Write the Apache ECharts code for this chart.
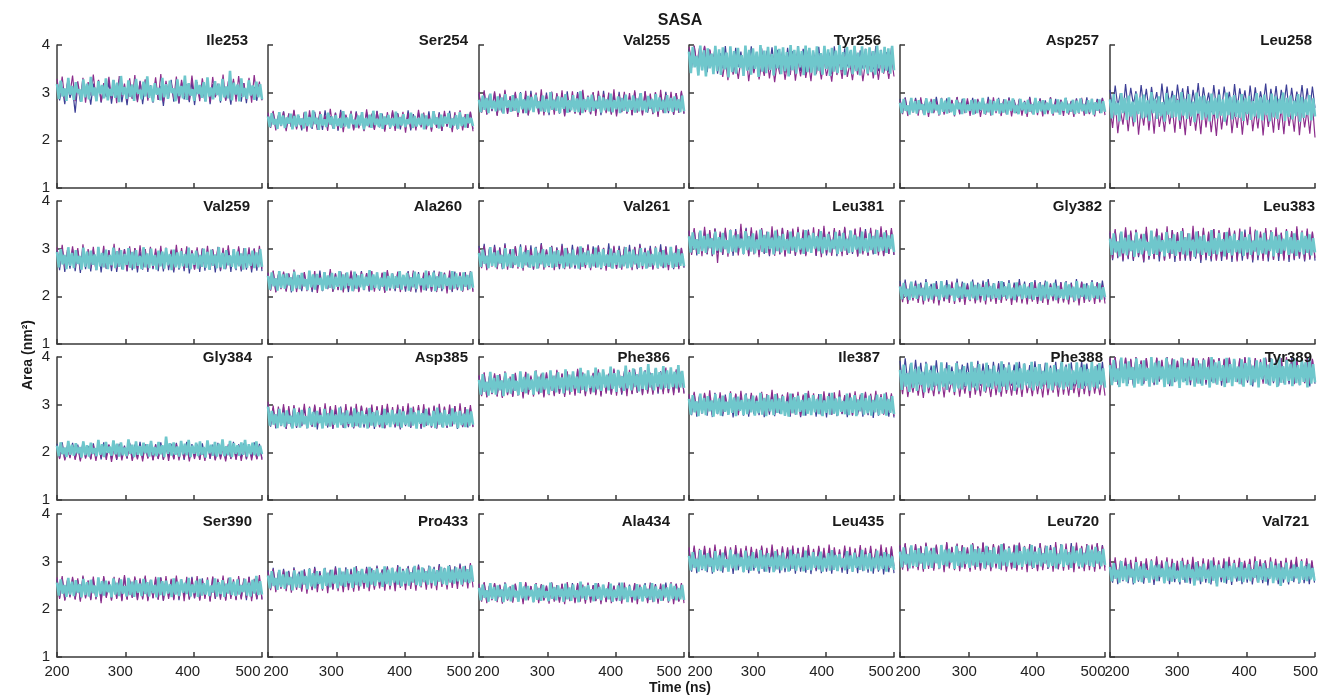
<!DOCTYPE html>
<html>
<head>
<meta charset="utf-8">
<title>SASA</title>
<script src="https://cdn.jsdelivr.net/npm/echarts@6/dist/echarts.min.js"></script>
<style>
  html, body { margin: 0; padding: 0; background: #ffffff; }
  #chart { width: 1321px; height: 696px; }
</style>
</head>
<body>
<div id="chart"></div>
<script>
// Solvent accessible surface area per residue, 200–500 ns.
// Each residue holds three runs: [blue, purple, cyan]; values are in 0.01 nm².

const residues = ['Ile253', 'Ser254', 'Val255', 'Tyr256', 'Asp257', 'Leu258',
                  'Val259', 'Ala260', 'Val261', 'Leu381', 'Gly382', 'Leu383',
                  'Gly384', 'Asp385', 'Phe386', 'Ile387', 'Phe388', 'Tyr389',
                  'Ser390', 'Pro433', 'Ala434', 'Leu435', 'Leu720', 'Val721'];

const timeTicks = [200, 300, 400, 500];
const areaTicks = [1, 2, 3, 4];

const Ile253 = [
  [318,284,312,276,321,289,307,258,316,281,324,290,311,275,319,286,326,279,309,291,322,277,315,287,328,280,313,274,320,288,310,283,325,276,317,290,306,279,323,285,314,272,319,289,327,281,312,277,321,286,308,280,324,274,316,288,311,282,326,276,318,290,313,279,322,284,309,275,325,287,315,281,320,278,327,289,312,283,317,285],
  [329,291,334,285,318,297,336,282,324,289,331,279,322,294,338,286,327,281,320,295,333,288,326,278,335,292,319,284,330,287,337,280,323,296,328,283,316,290,332,285,339,281,325,293,321,287,334,279,327,294,318,284,336,289,322,282,330,297,326,280,333,291,319,286,338,283,324,288,329,281,335,293,320,285,331,279,337,290,323,284],
  [318,287,325,292,309,283,331,296,314,285,322,299,307,281,328,290,319,286,333,294,311,282,324,297,316,288,330,284,308,293,327,289,321,280,335,295,312,287,326,291,317,283,329,298,306,286,323,292,334,289,315,281,320,296,310,284,331,290,318,287,325,299,309,282,328,293,314,288,336,285,320,294,307,283,327,297,316,289,322,281,332,292,311,286,324,295,319,283,329,290,313,288,346,284,321,296,317,282,330,291,310,287,326,294,315,285,323,290,318,286]
];
const Ser254 = [
  [254,229,259,225,250,232,261,223,256,228,262,226,249,221,258,230,253,224,260,227,255,222,263,229,251,225,258,220,264,231,252,226,257,223,261,228,254,221,259,230,250,224,262,227,256,222,253,229,260,225,257,223,251,228,263,221,255,226,258,230,252,224,261,222,254,227,259,220,256,229,262,225,253,223,258,228,250,226,260,224],
  [258,226,262,221,253,230,260,219,256,228,264,223,251,225,259,218,263,227,255,222,261,229,252,220,266,226,257,223,260,217,254,228,262,221,258,225,253,219,265,227,256,222,261,230,250,218,259,224,263,220,255,228,260,216,257,225,252,221,264,227,258,223,254,218,261,226,256,220,262,229,253,217,259,224,263,221,255,226,260,219],
  [250,228,257,233,245,224,259,231,252,226,248,235,256,223,251,229,254,232,246,225,260,230,249,227,263,234,247,222,255,231,244,228,258,233,250,224,253,230,246,226,261,229,248,225,256,234,243,227,252,231,259,223,247,230,254,226,262,232,245,228,257,224,250,233,253,227,246,230,260,225,249,231,255,228,244,234,258,226,251,229,247,232,256,223,252,230,245,227,261,233,248,225,254,229,250,235,257,226,246,231,253,224,259,230,249,227,255,236,247,230]
];
const Val255 = [
  [297,259,302,255,294,261,300,253,296,258,303,256,291,262,299,254,301,257,295,252,304,260,297,255,293,258,300,253,302,261,296,256,299,252,303,259,294,257,301,254,298,262,292,255,300,258,297,253,304,260,295,256,299,254,302,259,296,257,293,253,301,261,298,255,303,258,294,256,300,252,297,260,302,257,295,254,299,258,301,256],
  [301,258,305,254,296,262,303,251,298,259,306,256,293,261,302,249,299,257,304,253,297,263,300,255,307,252,295,260,302,254,299,258,305,250,296,261,303,256,298,253,306,259,294,255,301,251,304,262,297,257,300,254,307,250,296,260,302,256,299,253,305,258,295,252,303,261,298,255,301,249,306,257,297,260,302,254,299,258,304,256],
  [285,259,294,264,289,257,298,266,283,261,292,263,290,256,297,268,284,260,295,262,288,258,299,265,286,257,293,263,291,259,296,267,282,261,294,260,287,258,301,264,285,262,292,257,290,266,297,258,284,263,295,260,288,259,303,257,286,264,291,260,296,262,283,266,293,258,290,263,286,261,298,259,284,265,292,257,289,262,296,260,285,264,294,258,288,261,299,263,283,259,293,266,287,258,297,261,290,264,285,257,295,262,289,260,292,263,286,259,294,261]
];
const Tyr256 = [
  [392,352,397,358,385,347,396,343,389,355,393,340,383,351,398,346,390,342,394,354,386,339,391,348,397,345,384,350,393,341,388,356,395,344,390,349,386,342,394,347,387,352,398,345,392,341,389,353,385,346,396,343,391,350,384,339,397,348,388,344,393,355,386,342,395,347,389,351,392,340,387,349,398,345,390,352,385,343,394,348],
  [396,366,399,360,393,371,398,358,391,364,384,345,372,333,368,326,376,338,362,329,370,336,381,324,366,341,373,328,360,335,377,330,369,322,364,339,375,327,362,337,379,325,367,334,372,331,365,324,378,339,363,328,371,335,360,323,374,337,366,329,380,333,361,326,369,338,373,324,364,336,376,330,367,327,370,340,363,329,375,334],
  [386,341,396,353,377,336,399,347,389,334,393,351,382,339,398,345,391,337,395,349,384,332,397,343,387,340,394,352,379,335,399,346,390,338,393,350,386,333,400,344,388,341,396,348,381,336,398,351,392,339,395,345,385,334,400,347,390,340,397,353,387,337,399,343,394,342,389,336,397,346,383,338,398,350,391,335,394,344,388,341,400,348,385,337,396,352,390,339,398,345,384,336,397,349,392,340,395,343,387,338,399,351,389,342,396,346,393,340,398,347]
];
const Asp257 = [
  [287,260,290,257,283,261,289,258,285,262,288,256,282,259,291,260,286,257,288,263,284,258,290,255,287,261,283,259,289,257,285,262,288,258,291,256,284,260,289,259,286,257,290,261,285,258,287,256,283,260,291,258,286,262,288,257,284,259,290,256,287,261,285,258,289,260,283,257,288,262,286,259,290,256,284,260,287,258,289,259],
  [284,255,288,251,279,258,286,252,290,256,281,249,287,257,283,252,289,254,280,258,285,250,291,255,282,257,288,251,284,256,287,249,280,254,286,252,290,257,279,251,285,255,288,250,283,257,286,252,281,249,289,256,284,253,287,250,280,255,290,252,283,258,285,251,288,254,281,249,286,256,289,252,282,255,287,250,284,257,288,253],
  [279,257,287,262,273,254,289,259,282,256,284,264,276,253,288,258,281,257,286,263,274,254,288,260,283,256,290,259,277,253,285,265,279,255,288,258,275,262,284,254,286,257,281,263,289,255,277,259,285,253,282,261,287,256,278,258,286,254,283,262,288,257,274,255,287,263,280,256,285,260,276,254,289,258,282,261,284,255,279,263,287,256,275,259,286,254,281,262,289,257,277,260,285,255,283,258,288,261,276,256,284,259,287,254,280,262,286,257,282,260]
];
const Leu258 = [
  [306,263,315,271,299,259,318,266,310,275,303,261,316,269,308,264,312,273,301,258,319,267,313,270,304,262,317,274,309,265,314,260,306,270,320,263,311,272,300,259,316,267,307,262,313,271,302,258,318,266,309,273,305,260,315,268,311,264,303,272,319,261,308,269,314,263,306,274,317,260,310,267,302,271,316,265,309,262,313,268],
  [270,226,282,215,263,233,277,219,271,229,285,212,266,231,280,221,273,214,284,228,261,218,276,234,269,216,287,224,264,211,279,230,272,220,267,213,281,227,274,217,265,209,278,223,268,231,283,215,262,226,275,212,270,232,286,219,264,225,279,210,272,228,266,216,281,222,268,213,277,230,263,218,284,211,271,227,265,214,276,206],
  [286,246,297,253,279,240,299,257,289,243,294,250,281,238,298,255,290,246,296,248,284,241,301,257,287,245,292,251,280,239,299,254,289,247,295,249,285,242,301,252,287,245,297,250,281,238,300,256,292,243,294,248,283,240,298,254,289,246,296,252,286,239,300,253,291,244,295,249,284,247,297,241,288,255,293,243,282,250,299,246,290,242,296,253,285,240,298,248,292,245,287,256,300,241,289,249,294,244,283,251,297,239,291,247,286,253,295,242,288,250]
];
const Val259 = [
  [296,255,301,251,293,258,299,253,296,249,302,257,294,252,298,256,300,250,295,258,297,253,303,251,292,257,299,252,296,255,301,250,294,256,298,251,300,257,293,253,297,252,302,255,295,250,299,256,296,253,301,248,294,257,298,251,300,254,293,256,297,250,302,253,295,257,299,251,296,255,301,252,294,256,298,250,300,254,297,253],
  [303,262,308,258,297,265,305,260,301,256,309,263,299,259,304,255,300,264,306,258,296,261,310,257,302,263,298,254,305,260,301,258,307,262,299,256,304,259,300,261,306,257,302,263,298,255,308,260,301,258,305,262,297,256,303,259,300,264,306,257,299,261,304,255,302,259,307,262,298,258,305,256,301,263,303,257,300,260,306,258],
  [293,261,299,267,287,257,303,264,291,259,297,268,285,256,302,262,294,258,296,266,288,255,304,263,291,261,298,257,287,265,302,259,295,262,297,256,289,266,301,260,293,258,297,264,285,257,303,261,290,259,300,264,287,256,296,263,294,258,301,265,289,255,298,261,292,259,295,263,289,260,302,257,290,266,296,258,287,262,300,260,293,256,298,264,288,259,303,261,291,257,297,265,286,262,299,258,294,263,290,256,301,260,288,264,296,259,292,261,299,262]
];
const Ala260 = [
  [248,214,252,210,245,217,250,212,247,208,253,215,244,211,249,216,251,209,246,213,254,211,243,216,250,210,248,214,252,212,245,209,251,215,247,211,253,213,249,210,246,216,250,212,248,209,252,214,246,211,250,216,244,210,253,213,248,208,251,215,245,212,249,210,254,214,247,211,250,216,246,209,252,213,248,211,251,215,249,212],
  [250,212,254,208,246,215,252,210,248,213,256,209,244,216,251,211,249,214,253,207,245,212,250,215,257,210,247,213,252,208,249,216,254,211,246,209,251,214,248,212,253,210,247,215,250,207,255,212,248,214,252,209,245,216,251,210,254,213,247,208,250,215,253,211,246,209,252,214,249,206,254,212,247,215,251,210,248,213,253,209],
  [243,214,250,221,238,212,253,218,246,216,248,223,240,211,252,217,245,215,249,221,236,213,254,219,246,214,247,224,239,212,251,216,244,218,249,215,241,220,253,213,246,217,250,222,237,211,252,216,244,219,247,214,241,222,255,213,246,218,250,215,239,220,251,212,243,217,248,216,242,218,253,214,245,221,249,212,240,219,252,215,247,223,238,213,254,217,244,220,250,211,242,218,251,215,246,222,239,214,253,216,248,219,243,212,250,220,245,215,252,218]
];
const Val261 = [
  [306,261,310,258,300,264,308,260,303,257,311,263,299,259,305,262,309,258,301,261,307,256,304,263,312,260,298,262,306,259,303,257,310,261,300,264,308,258,304,260,302,263,309,259,305,261,307,257,301,262,311,260,303,258,306,264,299,259,308,261,304,257,310,262,302,260,306,258,300,263,309,259,305,261,303,257,307,262,301,260],
  [302,259,306,255,298,262,304,257,300,261,308,256,297,260,305,258,301,254,307,262,299,257,303,259,309,256,298,261,305,255,300,260,306,257,302,258,297,261,304,256,301,259,307,255,299,260,305,257,302,254,298,261,306,258,300,256,304,260,297,255,303,259,308,257,299,262,301,256,305,258,298,260,304,255,300,259,306,257,302,261],
  [291,262,298,268,285,259,303,264,292,261,296,269,287,258,301,263,289,260,299,266,284,262,304,259,293,265,297,260,286,263,302,258,291,267,299,261,288,264,303,260,294,262,297,268,285,259,301,263,290,261,298,265,287,258,305,262,292,266,296,260,289,263,302,261,293,259,299,264,288,262,300,258,291,266,297,260,286,263,303,259,294,261,298,267,288,260,301,264,292,258,296,262,289,265,302,259,293,263,297,261,287,266,304,260,291,262,299,264,290,263]
];
const Leu381 = [
  [336,290,340,286,333,292,339,288,335,284,342,291,331,287,338,293,336,285,341,290,334,288,344,286,337,292,332,287,340,289,335,284,339,291,333,288,343,286,336,290,338,285,341,289,334,287,340,292,333,285,338,289,342,286,335,291,339,284,337,290,343,287,334,289,340,285,336,292,341,286,338,288,333,291,342,285,337,289,339,287],
  [338,287,343,291,335,284,346,289,339,285,342,270,336,288,344,283,340,292,337,286,352,290,341,284,345,288,338,282,343,291,336,287,347,285,340,289,344,283,339,290,342,286,346,288,340,284,337,291,345,286,341,282,348,289,336,285,343,290,339,284,346,287,338,292,342,283,345,288,337,285,344,290,340,286,347,284,339,289,343,287],
  [326,292,334,298,320,289,338,295,327,291,331,301,322,288,336,296,324,293,333,299,318,290,339,294,328,292,330,301,321,289,337,297,326,294,332,290,319,298,340,293,329,291,335,299,323,288,338,295,327,292,331,297,320,290,336,296,325,293,334,298,322,289,339,294,328,291,333,300,326,295,337,290,324,297,331,292,319,299,335,289,327,294,333,296,321,291,338,293,329,298,325,290,336,295,322,292,332,297,327,289,339,294,324,296,334,291,328,299,330,293]
];
const Gly382 = [
  [232,193,235,190,227,196,233,192,229,189,236,195,226,191,232,194,230,190,234,197,228,192,237,189,231,195,227,192,235,190,229,194,233,191,236,196,228,190,232,193,230,195,234,191,229,193,236,190,231,195,228,192,234,189,230,196,233,191,227,194,235,192,230,190,232,195,229,193,236,191,231,194,228,190,234,196,230,192,233,193],
  [225,188,229,184,221,191,227,186,224,183,230,189,220,185,226,181,228,190,222,186,231,184,219,188,227,182,224,190,229,185,221,187,226,183,230,189,223,184,228,186,220,191,227,182,224,187,229,185,222,183,226,189,230,184,221,186,228,182,225,190,223,185,229,187,220,183,227,188,224,181,230,186,222,189,226,184,228,187,223,185],
  [221,194,228,199,216,192,231,197,222,195,226,201,218,191,230,196,221,193,227,200,215,192,232,198,223,194,225,202,217,190,229,197,220,195,228,199,214,193,231,196,224,192,226,201,219,191,230,198,222,194,227,197,216,193,232,199,221,195,228,196,218,192,229,200,223,194,226,197,220,195,230,193,217,199,227,191,224,196,231,194,219,200,228,192,222,197,215,195,229,193,225,198,220,191,232,196,218,199,226,194,223,192,230,197,221,195,227,193,219,198]
];
const Leu383 = [
  [333,276,338,280,330,273,340,278,334,274,339,282,328,271,337,277,335,279,341,273,331,276,336,280,339,272,333,278,340,275,329,274,337,279,334,270,338,276,332,273,341,277,336,274,333,279,339,272,335,277,330,275,340,278,334,271,337,276,331,279,338,273,336,277,340,274,332,278,339,272,335,276,341,279,333,273,337,277,334,275],
  [336,279,341,283,333,276,345,281,338,277,340,285,331,273,346,280,337,278,342,284,334,275,347,279,339,282,335,274,343,280,332,277,348,283,337,276,344,281,336,278,341,275,339,282,335,277,344,280,338,273,342,284,333,279,346,276,340,282,336,274,343,281,339,277,345,283,334,275,341,280,337,278,347,282,338,276,342,279,336,281],
  [321,287,332,292,315,284,336,290,323,286,329,295,317,283,334,291,321,288,331,296,314,285,338,289,325,287,328,294,318,284,335,291,322,289,330,285,316,293,337,288,324,286,332,295,319,283,336,290,326,287,329,292,315,285,339,289,322,288,333,294,320,284,335,291,327,286,331,293,318,290,336,285,324,292,330,287,317,294,338,286,323,290,333,288,319,295,335,284,326,291,329,289,321,296,337,287,324,290,332,285,318,293,334,288,327,291,330,286,322,292]
];
const Gly384 = [
  [218,188,221,185,214,190,220,187,216,184,222,189,213,186,219,188,217,185,221,190,215,186,223,184,218,189,214,187,220,185,216,188,222,186,215,189,219,184,217,187,221,185,216,190,218,186,220,188,215,184,222,187,217,189,214,185,219,188,221,186,216,184,220,190,218,185,213,187,222,186,217,188,219,185,215,189,221,186,218,187],
  [213,186,217,183,210,188,216,184,212,181,218,187,209,185,215,182,213,189,211,184,217,180,210,186,216,183,212,188,218,182,209,185,214,181,217,187,211,183,215,186,213,184,216,182,212,185,218,183,210,187,215,181,213,186,217,184,211,182,216,188,212,183,214,185,209,181,217,186,213,184,215,182,211,187,216,183,212,185,214,184],
  [214,192,221,196,210,190,224,195,216,193,219,198,211,189,223,194,215,191,220,197,209,192,226,195,217,190,222,199,212,193,225,196,218,191,221,194,210,192,227,197,216,190,223,195,213,193,220,198,217,191,224,194,211,192,222,196,215,190,233,197,219,193,221,195,212,191,224,196,218,194,226,190,214,197,220,192,223,195,211,189,225,198,216,193,222,191,218,196,227,192,213,194,224,190,219,197,215,193,221,195,226,191,217,196,220,194,223,192,214,196]
];
const Asp385 = [
  [300,254,293,250,290,256,295,249,291,253,296,251,289,255,294,250,292,254,297,248,290,256,293,252,295,249,291,255,296,251,289,253,294,250,292,256,297,252,290,254,293,249,295,253,291,250,296,254,289,252,294,248,292,255,297,251,290,253,295,249,293,256,291,252,296,250,289,254,294,251,292,255,297,249,290,253,295,252,293,254],
  [306,258,298,252,296,255,301,250,297,257,299,253,294,256,302,251,296,254,300,257,295,252,303,255,297,250,299,258,293,253,301,256,296,251,302,254,298,257,294,252,300,255,297,253,299,251,302,256,295,254,300,250,297,257,303,253,296,255,299,251,301,256,294,253,298,250,302,257,296,252,300,255,297,251,303,254,295,256,299,253],
  [296,256,287,258,280,251,291,256,283,253,288,260,277,250,292,255,284,252,289,259,276,251,293,257,285,253,287,261,278,250,291,256,282,254,289,258,279,252,294,257,283,251,288,260,277,253,292,255,285,252,287,259,280,250,293,256,284,254,288,258,278,251,291,257,283,253,289,259,281,255,290,252,286,258,279,254,293,256,284,250,288,260,282,253,291,257,277,255,287,251,294,258,283,252,289,256,280,254,292,259,285,251,287,257,281,253,290,255,286,258]
];
const Phe386 = [
  [360,320,365,317,357,323,363,319,361,316,367,322,356,318,364,321,360,317,368,324,358,320,369,322,362,318,366,325,359,321,370,323,364,320,368,326,361,322,372,324,366,321,369,325,365,323,371,320,367,326,363,322,373,324,368,321,370,327,366,323,374,325,369,322,372,326,367,324,375,323,370,327,368,325,373,324,371,326,369,325],
  [362,318,368,315,360,322,366,317,364,314,370,320,359,316,367,319,363,313,369,321,361,317,372,322,365,315,368,320,362,318,373,323,366,316,370,321,364,319,375,324,368,318,371,322,367,320,374,317,369,323,365,321,376,319,370,324,366,318,373,322,368,325,377,320,371,323,367,321,375,326,369,322,378,324,372,320,374,325,370,323],
  [352,321,364,327,348,319,369,325,356,321,362,330,351,318,367,326,355,323,364,329,350,320,370,327,358,324,365,331,353,321,371,328,359,325,367,332,355,322,372,329,361,326,368,333,357,324,374,330,363,327,370,334,359,325,377,331,365,328,372,335,361,326,378,332,367,329,374,336,363,330,380,333,366,327,373,335,360,329,382,334,368,330,376,337,364,328,379,333,370,331,385,336,366,330,377,338,368,332,381,335,372,333,378,337,369,334,383,336,371,335]
];
const Ile387 = [
  [319,278,324,275,316,281,322,277,318,274,325,280,315,276,321,279,319,273,323,281,317,277,324,275,320,280,316,278,322,274,319,279,325,276,318,281,321,277,317,275,323,279,320,274,318,277,324,280,316,275,322,278,319,273,325,279,317,276,321,280,318,274,323,277,320,279,316,275,324,278,319,272,322,277,318,280,323,275,320,273],
  [322,284,327,280,319,287,325,282,330,279,321,285,326,281,318,286,328,283,323,278,329,285,320,281,325,287,319,282,327,279,322,284,331,280,324,286,320,283,326,278,323,282,327,276,321,285,329,281,324,284,319,280,328,286,322,279,326,283,330,281,320,285,325,278,328,284,321,282,327,280,323,286,329,283,322,279,326,284,324,276],
  [312,279,320,284,307,276,323,282,314,278,318,286,309,275,322,281,313,277,319,285,306,279,324,283,315,276,317,287,310,278,321,280,312,284,319,277,308,282,325,279,314,276,320,286,311,278,322,283,313,280,318,277,307,275,323,282,316,279,319,285,310,277,324,281,314,278,320,284,312,280,322,276,309,283,318,279,325,281,313,277,317,285,308,280,323,278,315,283,320,276,311,286,324,279,314,282,319,277,310,284,321,278,316,281,323,277,312,283,318,280]
];
const Phe388 = [
  [392,340,397,346,385,338,394,343,388,336,390,345,382,337,393,341,386,339,389,344,380,335,391,342,384,337,388,346,381,339,392,340,386,343,383,336,390,341,387,338,385,344,389,340,384,342,390,337,386,345,383,339,391,341,385,338,388,343,382,340,390,336,387,344,384,341,389,338,383,345,391,339,386,342,388,337,384,343,390,340],
  [358,322,365,316,352,325,362,319,355,314,368,324,350,318,361,322,357,315,364,326,353,320,367,317,356,323,360,314,369,321,354,318,363,325,351,316,366,320,358,317,362,323,355,319,364,321,359,316,367,324,352,318,363,322,357,315,365,320,354,325,361,317,368,321,356,319,362,324,353,316,366,322,359,318,364,323,355,320,360,319],
  [373,331,384,338,366,327,388,335,375,329,380,341,369,326,386,336,373,330,382,340,367,328,389,337,376,331,383,342,370,327,387,334,374,332,381,339,368,329,390,336,377,330,385,343,371,328,388,337,375,333,382,340,369,326,391,338,378,331,384,344,372,329,389,336,376,332,386,341,373,335,390,330,379,339,385,333,371,342,388,334,377,330,383,340,374,336,391,332,380,338,386,331,372,343,389,335,378,333,384,339,375,330,390,337,381,334,387,341,376,336]
];
const Tyr389 = [
  [396,346,399,342,392,349,398,344,394,340,399,351,391,343,397,346,393,341,398,348,390,345,399,339,395,347,392,343,397,350,394,341,398,346,391,344,396,342,399,348,393,345,397,340,394,347,398,343,391,349,396,341,399,346,393,338,397,344,390,348,395,342,398,345,392,340,396,347,394,343,399,349,391,341,397,345,393,338,395,344],
  [398,350,400,345,395,352,399,347,396,343,400,354,393,346,398,349,395,344,399,351,394,348,400,342,397,350,392,345,398,353,396,347,399,344,393,349,397,346,400,352,395,343,398,348,396,345,399,351,394,347,397,343,400,350,392,346,398,352,395,344,399,349,396,347,393,351,398,345,400,348,394,343,397,350,395,346,399,344,396,349],
  [383,341,394,348,376,337,399,345,386,339,391,352,379,336,397,344,385,340,393,350,377,338,400,346,388,342,392,353,380,337,398,343,384,339,395,349,378,335,399,347,387,341,393,351,381,338,397,344,386,340,394,352,379,336,400,345,389,342,392,350,383,337,398,346,385,339,396,348,380,343,395,338,387,351,399,341,382,347,393,336,389,353,398,344,384,340,396,349,388,337,400,346,381,342,394,350,386,339,397,345,383,341,395,348,389,336,398,344,385,347]
];
const Ser390 = [
  [263,224,266,220,259,227,265,222,261,219,268,225,258,221,264,223,262,218,267,226,257,220,265,224,263,219,269,222,260,225,266,221,262,223,268,220,259,224,264,221,267,218,263,225,261,222,266,219,260,226,264,221,268,223,259,220,265,225,262,218,267,222,261,224,266,220,263,226,258,221,265,223,262,219,268,224,260,221,264,222],
  [267,222,270,218,262,225,268,220,265,216,271,223,261,219,269,221,264,213,270,224,260,218,268,222,266,217,272,220,263,224,269,219,265,221,271,217,262,223,268,220,266,218,270,222,264,219,271,223,263,217,268,221,265,224,270,218,262,222,267,216,269,223,264,220,271,218,266,222,263,219,270,221,265,224,268,217,264,222,272,220],
  [256,229,263,233,251,226,266,231,258,228,261,235,253,225,264,230,257,227,262,234,250,226,267,232,259,229,260,236,252,225,265,231,256,228,263,233,249,227,266,230,258,226,261,235,254,228,264,232,257,227,262,234,251,225,267,230,259,229,260,233,253,226,265,231,258,228,263,235,256,232,266,227,252,234,260,226,264,229,255,231,262,228,250,235,265,227,257,232,261,226,254,233,267,230,258,228,263,231,251,236,264,229,256,227,262,233,270,230,259,231]
];
const Pro433 = [
  [282,244,287,241,278,246,285,243,281,240,288,247,279,242,284,245,286,241,289,248,280,243,287,246,283,242,290,249,281,245,288,247,285,244,291,250,283,246,289,248,286,245,292,249,284,247,290,251,287,248,293,250,285,249,291,252,288,250,294,253,286,251,292,254,289,252,295,254,287,253,293,255,290,253,296,256,291,254,294,257],
  [279,240,284,236,275,243,282,238,278,235,285,241,273,237,281,233,280,240,286,236,276,239,283,234,279,242,287,238,277,236,284,240,281,237,288,239,279,243,286,238,283,241,289,244,282,239,287,242,280,238,290,245,284,240,288,243,282,239,291,246,285,241,289,244,283,240,292,247,286,242,290,245,284,243,293,248,288,244,297,246],
  [271,244,280,249,266,241,283,247,273,243,279,251,268,240,282,246,275,245,281,252,270,242,285,248,276,244,280,253,271,243,286,249,277,246,283,254,272,244,287,250,279,247,284,255,273,245,288,251,280,248,285,256,275,246,289,252,282,249,286,257,277,247,290,253,283,250,287,256,279,252,289,248,281,254,286,250,278,256,291,251,283,249,288,257,280,252,290,255,285,250,282,258,289,253,286,251,291,256,283,254,288,259,285,252,290,257,284,255,292,258]
];
const Ala434 = [
  [252,219,255,216,249,221,254,218,251,215,256,220,247,217,253,219,250,216,255,222,248,218,254,217,251,220,249,216,256,219,250,217,253,221,248,218,255,216,252,220,249,217,254,219,251,218,255,220,248,216,253,221,250,217,256,219,249,222,252,216,254,220,247,218,255,217,251,221,253,216,249,219,256,218,250,220,254,217,252,219],
  [254,216,257,213,250,219,255,215,252,212,256,218,248,214,254,217,251,211,257,219,249,215,255,213,253,218,250,212,256,216,251,214,254,211,257,217,249,213,255,216,252,212,256,214,250,217,254,211,251,215,257,213,249,218,253,212,256,216,250,214,255,211,252,217,248,213,256,215,251,212,254,218,250,214,257,211,253,216,255,213],
  [245,219,252,224,240,216,255,222,247,218,250,226,242,215,254,221,246,217,251,225,239,216,257,223,248,219,249,227,241,215,253,220,245,218,251,224,238,217,256,222,247,219,250,226,243,216,254,221,246,218,252,225,240,215,258,223,248,220,251,227,242,217,255,222,247,219,252,225,244,221,254,216,241,224,250,218,256,221,246,215,249,226,239,219,253,222,247,217,251,224,243,220,255,216,248,223,242,218,252,225,246,217,254,222,249,219,245,221,251,220]
];
const Leu435 = [
  [325,279,329,276,321,282,327,278,323,275,330,281,320,277,326,280,324,274,329,282,322,278,328,276,325,281,321,275,330,279,323,277,327,280,320,276,328,278,324,281,326,275,329,279,322,277,327,274,323,280,329,276,321,279,326,275,324,281,320,277,328,274,325,279,322,276,330,280,323,277,327,275,321,279,326,273,324,278,328,276],
  [330,288,334,285,327,291,333,287,329,284,336,290,326,286,332,289,330,283,335,291,328,287,333,285,331,290,327,284,334,288,329,286,336,289,326,285,332,290,330,287,334,284,328,288,331,286,335,289,327,283,333,290,329,285,336,287,330,291,326,284,334,288,331,286,328,290,335,283,329,287,333,289,327,285,336,288,330,284,332,290],
  [312,282,320,287,306,279,324,285,314,281,318,289,308,278,322,284,313,280,319,288,305,279,325,286,315,282,317,290,309,278,323,283,312,281,320,287,307,280,324,285,314,279,318,289,310,278,322,284,313,282,319,286,306,279,325,285,316,281,317,288,309,280,323,283,312,282,320,287,311,284,321,279,308,286,318,281,324,283,314,280,316,288,307,282,322,285,313,279,319,287,310,283,325,281,315,284,318,280,309,286,323,282,312,285,320,279,316,287,311,283]
];
const Leu720 = [
  [333,287,337,284,329,290,335,286,331,283,338,289,327,285,334,288,332,282,339,290,330,286,336,284,333,289,328,283,337,287,331,285,340,288,329,284,335,290,333,286,338,283,331,287,334,285,339,288,330,284,336,289,332,283,338,287,329,285,335,290,333,284,337,286,330,288,339,283,334,287,331,285,336,289,332,284,338,286,335,288],
  [335,283,339,280,330,286,337,282,333,279,340,285,329,281,336,284,334,278,341,286,331,282,338,280,335,285,330,279,339,283,332,281,340,284,331,280,337,286,334,282,338,279,332,284,336,281,340,283,333,278,337,285,330,280,339,282,334,286,331,279,341,284,335,281,338,283,332,278,340,285,333,280,337,282,336,279,339,284,334,281],
  [321,288,330,294,316,286,334,291,324,289,328,296,318,285,332,292,323,287,329,297,315,286,335,293,325,290,327,298,319,285,333,291,322,288,330,295,317,287,336,292,326,289,328,297,320,286,333,293,324,288,330,296,316,285,337,292,325,290,329,298,319,287,334,293,322,289,331,295,327,292,335,287,321,294,329,290,318,296,333,288,324,291,330,286,317,295,336,289,326,293,320,287,332,297,323,290,328,288,319,294,334,291,325,289,331,296,322,290,327,293]
];
const Val721 = [
  [299,256,302,253,295,259,300,255,297,252,303,258,294,254,299,257,297,251,302,259,295,255,301,253,298,257,294,252,303,256,296,254,300,258,293,253,301,256,298,252,302,255,296,257,299,254,301,251,295,258,300,253,297,256,303,252,294,257,299,255,302,250,296,258,298,253,301,256,295,252,300,257,297,254,302,255,294,253,299,256],
  [306,264,309,261,302,267,308,263,304,260,310,266,301,262,307,265,305,259,311,267,303,263,309,261,306,266,302,260,308,264,304,262,310,265,301,261,307,263,305,259,309,266,303,262,307,264,310,260,304,265,308,262,302,267,306,259,311,263,305,266,303,261,309,264,306,260,302,265,308,262,304,267,310,261,305,263,307,266,303,262],
  [289,259,297,264,283,256,301,262,291,258,295,267,285,255,299,261,290,257,296,266,282,256,302,263,292,259,294,268,286,255,300,260,289,258,297,264,281,257,301,262,293,256,295,266,284,250,299,261,290,258,296,264,283,255,302,260,292,248,294,267,286,256,300,262,291,258,297,265,288,260,299,257,287,263,295,259,284,266,301,256,290,262,297,258,286,264,300,255,292,261,296,249,288,263,298,257,285,260,294,265,289,256,301,262,291,259,296,263,287,260]
];

const panelRuns = [Ile253, Ser254, Val255, Tyr256, Asp257, Leu258,
                   Val259, Ala260, Val261, Leu381, Gly382, Leu383,
                   Gly384, Asp385, Phe386, Ile387, Phe388, Tyr389,
                   Ser390, Pro433, Ala434, Leu435, Leu720, Val721];

// ---- layout and styling ----
const FONT = '"Liberation Sans", Arial, Helvetica, sans-serif';
const runColors = ['#3d3f96', '#8c2d8c', '#6fc7cc'];
const runWidths = [1.2, 1.2, 2.6];
const axisColor = '#3a3a3a';

const colLeft = [57, 268, 479, 689, 900, 1110];
const rowTop = [45, 201, 357, 514];
const panelW = 205, panelH = 143;
const titleRight = [248, 468, 670, 881, 1099, 1312,
                    250, 462, 670, 884, 1102, 1315,
                    252, 468, 670, 880, 1103, 1312,
                    252, 468, 670, 884, 1099, 1309];
const titleMid = [41, 207, 358, 522];
// horizontal nudge (px) of the time tick labels 200/300/400/500 in each column
const tickNudge = [[0, -5, -6, -14], [8, -5, -5, -14], [8, -5, -5, -15],
                   [11, -4, -4, -13], [8, -4, -4, -12], [7, -1, -2, -9]];

function nudgeRich(shifts) {
  const rich = {};
  shifts.forEach((d, j) => {
    rich['t' + j] = {
      fontSize: 15, color: '#222', fontFamily: FONT,
      padding: d >= 0 ? [0, 0, 0, 2 * d] : [0, -2 * d, 0, 0]
    };
  });
  return rich;
}

const grids = [], xAxes = [], yAxes = [], series = [], graphics = [];

residues.forEach((name, k) => {
  const r = Math.floor(k / 6), c = k % 6;
  grids.push({ left: colLeft[c], top: rowTop[r], width: panelW, height: panelH, containLabel: false });

  xAxes.push({
    type: 'value', gridIndex: k,
    min: timeTicks[0], max: timeTicks[timeTicks.length - 1], interval: 100,
    axisLine: { onZero: false, lineStyle: { color: axisColor, width: 1.5 } },
    axisTick: { inside: true, length: 5, lineStyle: { color: axisColor, width: 1.5 } },
    splitLine: { show: false },
    axisLabel: {
      show: r === 3, fontSize: 15, color: '#222', margin: 7, fontFamily: FONT,
      showMinLabel: true, showMaxLabel: true, hideOverlap: false,
      formatter: (v) => '{t' + timeTicks.indexOf(v) + '|' + v + '}',
      rich: nudgeRich(tickNudge[c])
    }
  });

  yAxes.push({
    type: 'value', gridIndex: k,
    min: areaTicks[0], max: areaTicks[areaTicks.length - 1], interval: 1,
    axisLine: { show: true, onZero: false, lineStyle: { color: axisColor, width: 1.5 } },
    axisTick: { show: true, inside: true, length: 5, lineStyle: { color: axisColor, width: 1.5 } },
    splitLine: { show: false },
    axisLabel: { show: c === 0, fontSize: 15, color: '#222', margin: 7, fontFamily: FONT,
                 showMinLabel: true, showMaxLabel: true }
  });

  panelRuns[k].forEach((run, j) => {
    const n = run.length;
    series.push({
      type: 'line', xAxisIndex: k, yAxisIndex: k,
      symbol: 'none', showSymbol: false, smooth: false, animation: false,
      silent: true, z: 2 + j,
      lineStyle: { color: runColors[j], width: runWidths[j], join: 'bevel' },
      data: run.map((v, i) => [200 + 300 * i / (n - 1), v / 100])
    });
  });

  graphics.push({
    type: 'text', x: titleRight[k], y: titleMid[r], silent: true, z: 10,
    style: { text: name, align: 'right', verticalAlign: 'middle',
             font: 'bold 15px ' + FONT, fill: '#1a1a1a' }
  });
});

graphics.push(
  { type: 'text', x: 680, y: 21, silent: true,
    style: { text: 'SASA', align: 'center', verticalAlign: 'middle', font: 'bold 16px ' + FONT, fill: '#1a1a1a' } },
  { type: 'text', x: 680, y: 688, silent: true,
    style: { text: 'Time (ns)', align: 'center', verticalAlign: 'middle', font: 'bold 14px ' + FONT, fill: '#1a1a1a' } },
  { type: 'text', x: 28, y: 355, rotation: Math.PI / 2, silent: true,
    style: { text: 'Area (nm²)', align: 'center', verticalAlign: 'middle', font: 'bold 14px ' + FONT, fill: '#1a1a1a' } }
);

const chart = echarts.init(document.getElementById('chart'), null, { renderer: 'canvas' });
chart.setOption({
  backgroundColor: '#ffffff',
  animation: false,
  grid: grids,
  xAxis: xAxes,
  yAxis: yAxes,
  series: series,
  graphic: graphics
});
</script>
</body>
</html>
